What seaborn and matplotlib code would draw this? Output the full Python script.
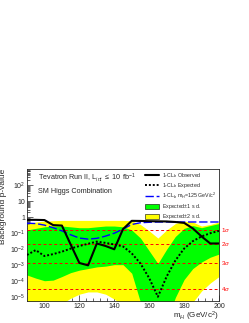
import numpy as np
import matplotlib
matplotlib.use("Agg")
import matplotlib.pyplot as plt
import matplotlib.ticker as ticker
from matplotlib.lines import Line2D
from matplotlib.patches import Patch
import seaborn as sns

# Higgs mass points (GeV/c^2)
mass = [90, 95, 100, 105, 110, 115, 120, 125, 130, 135, 140, 145,
        150, 155, 160, 165, 170, 175, 180, 185, 190, 195, 200]

# 1-CLb observed
p_obs = [0.68, 0.68, 0.66, 0.32, 0.30, 0.020, 1.4e-3, 1.0e-3, 0.023, 0.016, 0.010, 0.18,
         0.59, 0.58, 0.56, 0.55, 0.54, 0.50, 0.44, 0.20, 0.063, 0.023, 0.023]

# 1-CLb expected (median, background + SM Higgs)
p_exp = [4.4e-3, 8.9e-3, 3.8e-3, 5.0e-3, 7.1e-3, 0.011, 0.016, 0.022, 0.030, 0.025, 0.020, 0.015,
         5.6e-3, 1.3e-3, 1.6e-4, 1.1e-5, 2.0e-4, 2.0e-3, 0.011, 0.032, 0.063, 0.10, 0.14]

# 1-CLb expected for a 125 GeV/c^2 signal
p_125 = [0.42, 0.40, 0.32, 0.22, 0.14, 0.080, 0.050, 0.043, 0.048, 0.066, 0.10, 0.18,
         0.35, 0.45, 0.48, 0.50, 0.50, 0.50, 0.50, 0.50, 0.50, 0.50, 0.50]

# +-1 s.d. band
g_hi = [0.16, 0.20, 0.25, 0.28, 0.28, 0.25, 0.22, 0.22, 0.25, 0.28, 0.28, 0.25,
        0.16, 0.050, 8.0e-3, 1.3e-3, 0.010, 0.063, 0.20, 0.30, 0.22, 0.30, 0.40]
g_lo = [2.5e-4, 1.6e-4, 1.1e-4, 1.2e-4, 2.0e-4, 3.5e-4, 5.0e-4, 6.3e-4, 8.0e-4, 8.9e-4, 1.1e-3, 1.1e-3,
        3.2e-4, 5e-6, 1e-7, 1e-8, 3e-7, 1e-5, 1.3e-4, 6.3e-4, 1.6e-3, 3.2e-3, 5.0e-3]

# +-2 s.d. band
y_hi = [0.35, 0.50, 0.56, 0.60, 0.63, 0.63, 0.63, 0.63, 0.63, 0.63, 0.63, 0.63,
        0.60, 0.35, 0.14, 0.050, 0.16, 0.40, 0.56, 0.50, 0.28, 0.35, 0.50]
y_lo = [3.2e-6, 2.5e-6, 2.0e-6, 2.5e-6, 4.0e-6, 8.9e-6, 1.6e-5, 2.2e-5, 2.2e-5, 1.6e-5, 7.9e-6, 3.2e-6,
        3e-7, 1e-8, 1e-9, 1e-9, 1e-9, 1e-8, 1e-7, 5.0e-6, 2.5e-5, 7.9e-5, 2.0e-4]

# one-sided p-values for 1..4 sigma
sig_p = [0.1587, 0.02275, 1.35e-3, 3.17e-5]
sig_lab = [r"1$\sigma$", r"2$\sigma$", r"3$\sigma$", r"4$\sigma$"]

# y tick decades shown on the axis
y_ticks = [1e-5, 1e-4, 1e-3, 1e-2, 1e-1, 1, 10, 100]

sns.set_style("ticks")
plt.rcParams['font.family'] = ['Liberation Sans', 'DejaVu Sans']
plt.rcParams['mathtext.fontset'] = 'custom'
plt.rcParams['mathtext.rm'] = 'Liberation Sans'
plt.rcParams['mathtext.it'] = 'Liberation Sans:italic'
plt.rcParams['mathtext.sf'] = 'Liberation Sans'

fig = plt.figure(figsize=(2.49, 3.23), dpi=100)
ax = fig.add_axes([0.1084, 0.0681, 0.7711, 0.4087])
ax.set_yscale('log')

ax.fill_between(mass, y_lo, y_hi, color=(1, 1, 0), lw=0, zorder=1)
ax.fill_between(mass, g_lo, g_hi, color=(0, 1, 0), lw=0, zorder=2)

for p in sig_p:
    ax.axhline(p, color='red', lw=0.7, dashes=(3, 2.5), zorder=3)

sns.lineplot(x=mass, y=p_125, ax=ax, color=(0, 0, 1), lw=1.0, zorder=4)
ax.lines[-1].set_dashes((6, 2))
sns.lineplot(x=mass, y=p_exp, ax=ax, color='black', lw=1.4, zorder=5)
ax.lines[-1].set_dashes((1, 1))
sns.lineplot(x=mass, y=p_obs, ax=ax, color='black', lw=1.5, zorder=6)

ax.set_xlim(90, 200)
ax.set_ylim(6e-6, 1e3)

# sigma labels on the right
for p, lab in zip(sig_p, sig_lab):
    ax.text(1.012, p, lab, transform=ax.get_yaxis_transform(), color='red',
            fontsize=4.5, va='center', ha='left')

# axes and ticks, ROOT like
ax.set_xticks([100, 120, 140, 160, 180, 200])
ax.xaxis.set_minor_locator(ticker.MultipleLocator(4))
ax.yaxis.set_major_locator(ticker.FixedLocator(y_ticks))
ax.yaxis.set_minor_locator(ticker.LogLocator(base=10, subs=np.arange(2, 10), numticks=20))
ax.yaxis.set_minor_formatter(ticker.NullFormatter())

def ylab(v, pos):
    e = int(round(np.log10(v)))
    if e == 0:
        return '1'
    if e == 1:
        return '10'
    return r'$10^{%d}$' % e

ax.yaxis.set_major_formatter(ticker.FuncFormatter(ylab))
ax.tick_params(which='both', direction='in', labelsize=5, width=0.5, pad=1.5)
ax.tick_params(which='major', length=4)
ax.tick_params(which='minor', length=2)
for s in ax.spines.values():
    s.set_linewidth(0.6)

ax.set_xlabel(r'm$_{H}$ (GeV/c$^{2}$)', fontsize=5.8, loc='right', labelpad=0)
ax.set_ylabel('Background p-value', fontsize=6, loc='top', labelpad=2)

ax.text(0.057, 0.93, r'Tevatron Run II, L$_{int}$ $\leq$ 10 fb$^{-1}$',
        transform=ax.transAxes, fontsize=5.2, va='center', ha='left')
ax.text(0.057, 0.833, 'SM Higgs Combination',
        transform=ax.transAxes, fontsize=5.2, va='center', ha='left')

handles = [
    Line2D([], [], color='black', lw=1.5),
    Line2D([], [], color='black', lw=1.4, dashes=(1, 1)),
    Line2D([], [], color=(0, 0, 1), lw=1.0, dashes=(6, 2)),
    Patch(facecolor=(0, 1, 0), edgecolor='black', lw=0.4),
    Patch(facecolor=(1, 1, 0), edgecolor='black', lw=0.4),
]
labels = [r'1-CL$_{b}$ Observed', r'1-CL$_{b}$ Expected',
          r'1-CL$_{b}$ m$_{H}$=125 GeV/c$^{2}$',
          r'Expected$\pm$1 s.d.', r'Expected$\pm$2 s.d.']
ax.legend(handles, labels, loc='upper left', bbox_to_anchor=(0.61, 0.995),
          frameon=False, fontsize=3.8, handlelength=2.6, handleheight=1.1,
          handletextpad=0.6, labelspacing=0.22, borderaxespad=0, borderpad=0.2)

fig.savefig('out.png', dpi=100)
